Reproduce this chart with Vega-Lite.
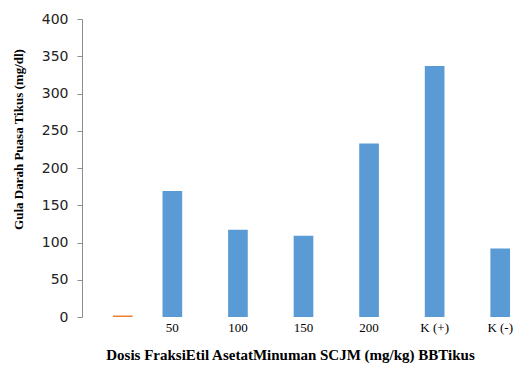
{
  "$schema": "https://vega.github.io/schema/vega-lite/v6.json",
  "width": 459,
  "height": 298,
  "padding": {"left": 74, "top": 19, "right": 0, "bottom": 48},
  "autosize": {"type": "none"},
  "background": "white",
  "config": {"view": {"stroke": null}},
  "data": {
    "values": [
      {"dosis": "", "gula": 2, "seri": "b"},
      {"dosis": "50", "gula": 169, "seri": "a"},
      {"dosis": "100", "gula": 117, "seri": "a"},
      {"dosis": "150", "gula": 109, "seri": "a"},
      {"dosis": "200", "gula": 233, "seri": "a"},
      {"dosis": "K (+)", "gula": 337, "seri": "a"},
      {"dosis": "K (-)", "gula": 92, "seri": "a"}
    ]
  },
  "encoding": {
    "x": {
      "field": "dosis",
      "type": "nominal",
      "sort": null,
      "scale": {"domain": ["", "50", "100", "150", "200", "K (+)", "K (-)"], "paddingInner": 0.7, "paddingOuter": 0.35},
      "axis": {
        "title": "Dosis FraksiEtil AsetatMinuman SCJM (mg/kg) BBTikus",
        "titleFont": "Liberation Serif",
        "titleFontSize": 15,
        "titleFontWeight": "bold",
        "titleColor": "#000",
        "titleX": 216,
        "titleAnchor": "middle",
        "titlePadding": 13,
        "labelFont": "Liberation Serif",
        "labelFontSize": 13,
        "labelColor": "#000",
        "labelAngle": 0,
        "labelPadding": 4,
        "domain": false,
        "ticks": false
      }
    },
    "y": {
      "field": "gula",
      "type": "quantitative",
      "scale": {"domain": [0, 400], "nice": false},
      "axis": {
        "values": [0, 50, 100, 150, 200, 250, 300, 350, 400],
        "offset": -8,
        "grid": false,
        "title": "Gula Darah Puasa  Tikus  (mg/dl)",
        "titleFont": "Liberation Serif",
        "titleFontSize": 13,
        "titleFontWeight": "bold",
        "titleColor": "#000",
        "titleX": -64,
        "titleY": 120,
        "titleAngle": -90,
        "titleBaseline": "middle",
        "labelFont": "DejaVu Sans",
        "labelFontSize": 14,
        "labelColor": "#222",
        "labelPadding": 9,
        "domainColor": "#8c8c8c",
        "tickColor": "#8c8c8c",
        "tickSize": 5
      }
    },
    "y2": {"datum": 0}
  },
  "layer": [
    {
      "transform": [{"filter": "datum.seri === 'a'"}],
      "mark": {"type": "bar", "color": "#5B9BD5"}
    },
    {
      "transform": [{"filter": "datum.seri === 'b'"}],
      "mark": {"type": "bar", "color": "#ED7D31", "xOffset": 16}
    }
  ]
}
